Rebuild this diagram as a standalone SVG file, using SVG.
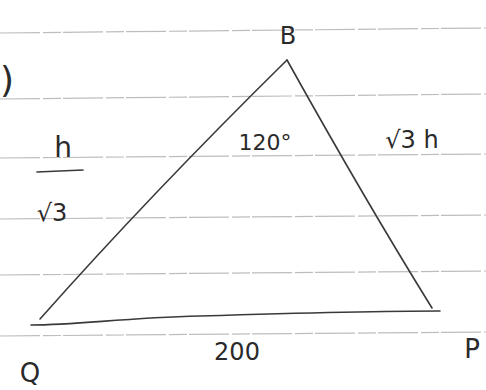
<svg xmlns="http://www.w3.org/2000/svg" width="486" height="390" viewBox="0 0 486 390">
<style>
.rule{stroke:#bdbdbd;stroke-width:1.2;fill:none;stroke-dasharray:40 3 18 2}
.edge{stroke:#3a3a3a;stroke-width:1.6;fill:none;stroke-linecap:round;stroke-linejoin:round}
.lbl{font-family:"DejaVu Sans","Liberation Sans",sans-serif;fill:#2a2a2a;font-weight:normal}
</style>
<rect width="486" height="390" fill="#ffffff"/>
<g id="rules">
<path class="rule" d="M0 33 L486 28"/>
<path class="rule" d="M0 99 L486 94"/>
<path class="rule" d="M0 158 L486 154"/>
<path class="rule" d="M0 219 L486 215"/>
<path class="rule" d="M0 275 L486 271"/>
<path class="rule" d="M0 336 L486 332"/>
</g>
<g id="connectors">
<path class="edge" d="M40 319 Q150 195 287 60"/>
<path class="edge" d="M287 60 Q365 200 432 308"/>
<path class="edge" d="M31 325 C80 325 120 318 200 316 C300 313 380 311 440 311"/>
<path class="edge" d="M37 172 L83 170"/>
</g>
<g id="node-B"><text class="lbl" x="288" y="44" font-size="24" text-anchor="middle">B</text></g>
<g id="node-Q"><text class="lbl" x="30" y="382" font-size="26" text-anchor="middle">Q</text></g>
<g id="node-P"><text class="lbl" x="472" y="358" font-size="26" text-anchor="middle">P</text></g>
<g id="label-angle"><text class="lbl" x="265" y="150" font-size="22" text-anchor="middle">120°</text></g>
<g id="label-right"><text class="lbl" x="412" y="148" font-size="24" text-anchor="middle">√3 h</text></g>
<g id="label-left">
<text class="lbl" x="63" y="157" font-size="28" text-anchor="middle">h</text>
<text class="lbl" x="52" y="221" font-size="24" text-anchor="middle">√3</text>
</g>
<g id="label-base"><text class="lbl" x="237" y="360" font-size="24" text-anchor="middle">200</text></g>
<g id="mark"><text class="lbl" x="7" y="92" font-size="36" text-anchor="middle">)</text></g>
</svg>
